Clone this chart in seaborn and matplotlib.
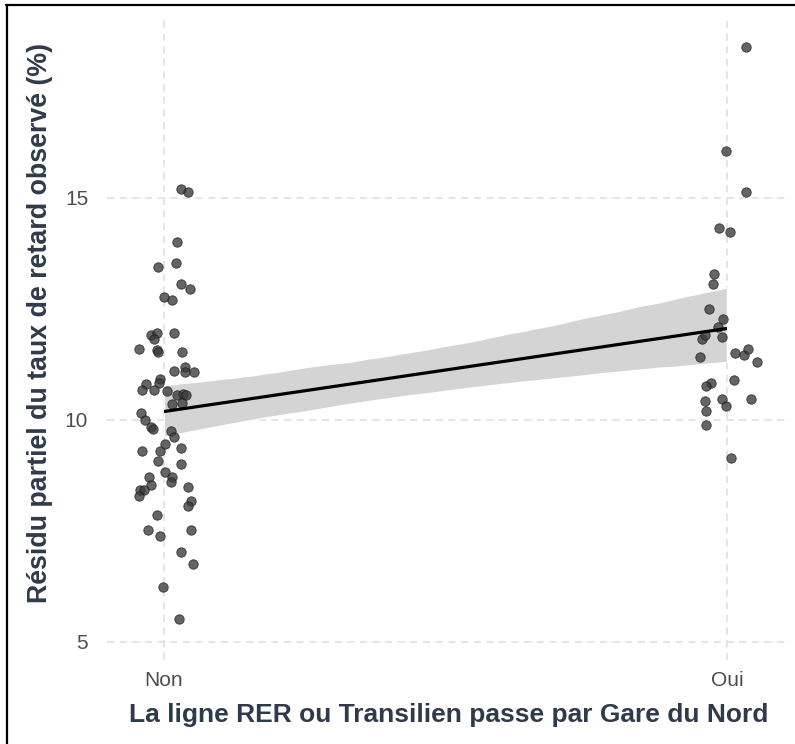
import numpy as np
import pandas as pd
import matplotlib
matplotlib.use("Agg")
import matplotlib.pyplot as plt
from matplotlib.lines import Line2D
import seaborn as sns

# ---- data ----
categories = ["Non", "Oui"]

non_y = [15.20, 15.14, 14.01, 13.45, 13.53, 13.06, 12.94, 12.78, 12.70, 11.91,
         11.95, 11.82, 11.95, 11.59, 11.58, 11.52, 11.54, 11.11, 11.20, 11.07,
         11.08, 10.92, 10.83, 10.81, 10.68, 10.68, 10.64, 10.56, 10.59, 10.56,
         10.36, 10.39, 10.16, 10.00, 9.83, 9.79, 9.76, 9.61, 9.46, 9.29,
         9.29, 9.36, 9.08, 9.01, 8.82, 8.72, 8.61, 8.72, 8.54, 8.42,
         8.41, 8.29, 8.49, 8.18, 8.05, 7.86, 7.51, 7.39, 7.51, 7.02,
         6.75, 6.23, 5.52]
non_jitter = [0.030, 0.043, 0.024, -0.010, 0.021, 0.030, 0.046, 0.001, 0.015, -0.023,
              -0.013, -0.017, 0.018, -0.044, -0.013, -0.010, 0.033, 0.018, 0.037, 0.037,
              0.053, -0.007, -0.008, -0.032, -0.038, -0.017, 0.006, 0.024, 0.034, 0.039,
              0.015, 0.033, -0.041, -0.033, -0.022, -0.019, 0.012, 0.018, 0.002, -0.039,
              -0.007, 0.030, -0.010, 0.030, 0.002, 0.015, 0.012, -0.026, -0.023, -0.043,
              -0.036, -0.044, 0.042, 0.049, 0.043, -0.013, -0.029, -0.007, 0.048, 0.030,
              0.052, -0.001, 0.027]

oui_y = [18.41, 16.06, 15.14, 14.33, 14.23, 13.29, 13.06, 12.50, 12.27, 12.09,
         11.82, 11.91, 11.86, 11.42, 11.50, 11.46, 11.59, 11.30, 10.90, 10.84,
         10.77, 10.43, 10.47, 10.32, 10.47, 10.20, 9.89, 9.14]
oui_jitter = [0.034, -0.001, 0.034, -0.014, 0.005, -0.023, -0.025, -0.031, -0.007, -0.016,
              -0.044, -0.039, -0.009, -0.047, 0.015, 0.031, 0.038, 0.053, 0.012, -0.028,
              -0.038, -0.039, -0.009, -0.001, 0.043, -0.038, -0.038, 0.008]

y_ticks = [5, 10, 15]
x_title = "La ligne RER ou Transilien passe par Gare du Nord"
y_title = "Résidu partiel du taux de retard observé (%)"

df = pd.DataFrame({
    "group": [0] * len(non_y) + [1] * len(oui_y),
    "resid": non_y + oui_y,
    "jit": non_jitter + oui_jitter,
})
df["xpos"] = df["group"] + df["jit"]

# ---- figure ----
sns.set_theme(style="white")
plt.rcParams["font.family"] = ["Liberation Sans", "DejaVu Sans"]

W, H = 795, 744
fig = plt.figure(figsize=(W / 100, H / 100), dpi=100)
ax = fig.add_axes([107 / W, 1 - 660 / H, (790 - 107) / W, (660 - 20) / H])

sns.regplot(data=df, x="group", y="resid", scatter=False, ci=97, seed=3,
            n_boot=2000, color="black", ax=ax,
            line_kws={"lw": 2.3, "zorder": 4, "solid_capstyle": "butt"})
for coll in ax.collections:
    coll.set_facecolor("#d4d4d4")
    coll.set_alpha(1)
    coll.set_zorder(2)

sns.scatterplot(data=df, x="xpos", y="resid", ax=ax, s=46,
                color="#3a3a3a", edgecolor="#1a1a1a", linewidth=0.6,
                alpha=0.78, zorder=3)

ax.set_xlim(-0.101, 1.112)
ax.set_ylim(4.59, 19.01)
ax.set_xticks([0, 1])
ax.set_xticklabels(categories)
ax.set_yticks(y_ticks)
ax.tick_params(length=0, labelsize=15, colors="#4d4d4d")
ax.tick_params(axis="x", pad=8)
ax.tick_params(axis="y", pad=13.5)

ax.grid(True, color="#e3e3e3", linestyle=(0, (4, 3)), linewidth=1.3)
ax.set_axisbelow(True)
for sp in ax.spines.values():
    sp.set_visible(False)

ax.set_xlabel(x_title, fontsize=19, fontweight="bold", color="#2f3a4a", labelpad=9)
ax.set_ylabel(y_title, fontsize=19.3, fontweight="bold", color="#2f3a4a")
ax.yaxis.set_label_coords(-0.079, 0.527)

# screenshot frame (top and left edges)
fig.add_artist(Line2D([6 / W, 1], [1 - 5 / H, 1 - 5 / H], color="black", lw=1.6,
                      transform=fig.transFigure))
fig.add_artist(Line2D([7 / W, 7 / W], [0, 1 - 5 / H], color="black", lw=1.6,
                      transform=fig.transFigure))

fig.savefig("out.png", dpi=100)
